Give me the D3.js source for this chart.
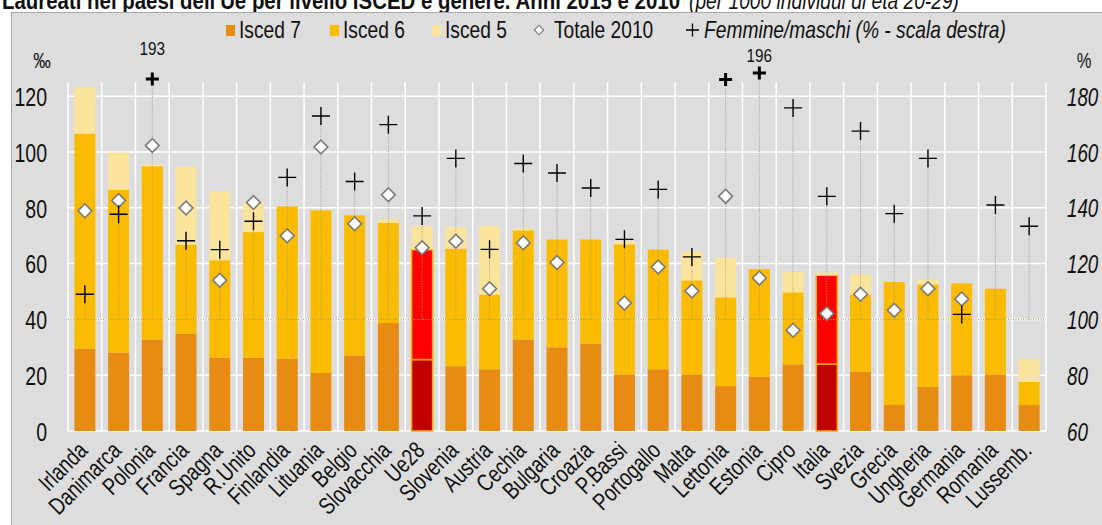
<!DOCTYPE html>
<html>
<head>
<meta charset="utf-8">
<script src="https://cdn.jsdelivr.net/npm/d3@7"></script>
<style>
  body { margin: 0; background: #fff; }
  svg text { font-family: "Liberation Sans", Arial, sans-serif; fill: #111; }
</style>
</head>
<body>
<svg id="chart" width="1102" height="525"></svg>
<script>
// data (per 1000, Femmine/maschi in %)
var countries = ["Irlanda","Danimarca","Polonia","Francia","Spagna","R.Unito","Finlandia","Lituania","Belgio","Slovacchia","Ue28","Slovenia","Austria","Cechia","Bulgaria","Croazia","P.Bassi","Portogallo","Malta","Lettonia","Estonia","Cipro","Italia","Svezia","Grecia","Ungheria","Germania","Romania","Lussemb."];
var isced7 = [29.5,28.1,32.8,34.9,26.3,26.3,25.9,20.8,27.1,38.7,25.6,23.2,22.1,32.8,30.0,31.3,20.3,22.1,20.3,16.1,19.4,23.9,24.0,21.2,9.3,15.8,20.0,20.3,9.3];
var isced6 = [77.1,58.4,62.1,31.9,34.9,45.0,54.6,58.3,50.2,35.9,39.4,42.2,26.8,39.1,38.6,37.3,46.6,42.9,33.7,31.8,38.6,25.8,31.8,27.7,44.1,36.7,32.9,30.7,8.3];
var isced5 = [16.6,13.3,0.7,28.0,24.7,10.4,0,0,0,1.3,8.5,7.7,24.6,0.8,0,0,1.2,0,10.4,14.2,0,7.3,1.0,7.3,0,1.8,0,0,8.1];
var totale2010 = [78.9,82.6,102.3,79.9,54.0,81.9,70.0,101.8,74.3,84.7,65.7,68.0,51.0,67.5,60.4,null,45.9,58.8,50.2,84.1,54.8,36.1,42.1,49.0,43.3,51.0,47.3,null,null];
var femMas = [109,137.7,193,128.2,125,135.2,150.9,172.9,149.4,169.8,137.1,157.7,125.1,155.9,152.5,147.1,128.7,146.6,122.4,186,196,175.8,144.1,167.5,137.9,157.7,101.8,141,133.4];
// off-scale values are drawn at the top edge of the chart
var offScaleShown = {"Polonia": 186.2, "Estonia": 188.3};
var offScaleLabels = ["Polonia", "Estonia"];
var highlighted = ["Ue28", "Italia"];
var leftTicks = [0,20,40,60,80,100,120];
var rightTicks = [60,80,100,120,140,160,180];

var colors = {i7: "#e88b12", i6: "#fbbb00", i5: "#fae39b", hi7: "#c00000", hi6: "#ff0000", hiStroke: "#f5aa00"};

// the original uses a condensed face: squeeze the glyphs horizontally
function narrow(sel, f) {
  sel.each(function() {
    var len = this.getComputedTextLength();
    d3.select(this).attr("textLength", len * f).attr("lengthAdjust", "spacingAndGlyphs");
  });
}

var svg = d3.select("#chart");

// title (partly cut by the top edge, as in the original)
svg.append("text").attr("x", 2).attr("y", 9).style("font-size", "23px").style("font-weight", "bold")
  .text("Laureati nei paesi dell'Ue per livello ISCED e genere. Anni 2015 e 2010")
  .attr("textLength", 678).attr("lengthAdjust", "spacingAndGlyphs");
svg.append("text").attr("x", 689).attr("y", 9).style("font-size", "23px").style("font-style", "italic")
  .text("(per 1000 individui di età 20-29)")
  .attr("textLength", 270).attr("lengthAdjust", "spacingAndGlyphs");

// gray panel
svg.append("rect").attr("x", 11.5).attr("y", 12.5).attr("width", 1100).attr("height", 520)
  .attr("fill", "#dddddd").attr("stroke", "#a9a9a9");

var x = d3.scaleBand().domain(countries).range([68, 1046]).padding(0);
var yL = d3.scaleLinear().domain([0, 125]).range([431, 82.25]);
var yR = d3.scaleLinear().domain([60, 185]).range([431, 82.25]);
var barW = 21;

// grid
var grid = svg.append("g");
grid.selectAll(".hg").data(leftTicks).enter().append("line")
  .attr("x1", 68).attr("x2", 1046)
  .attr("y1", function(d) { return yL(d); }).attr("y2", function(d) { return yL(d); })
  .attr("stroke", "#fff").attr("stroke-width", 1.5);
grid.selectAll(".vg").data(countries.concat(["__end"])).enter().append("line")
  .attr("x1", function(d, i) { return 68 + i * x.step(); })
  .attr("x2", function(d, i) { return 68 + i * x.step(); })
  .attr("y1", yL(125)).attr("y2", yL(0))
  .attr("stroke", "#fff").attr("stroke-width", 1.5);

// stacked bars
var rows = countries.map(function(c, i) {
  return {c: c, i7: isced7[i], i6: isced6[i], i5: isced5[i], t: totale2010[i], fm: femMas[i]};
});
var stack = d3.stack().keys(["i7", "i6", "i5"])(rows);
var bars = svg.append("g");
stack.forEach(function(layer) {
  bars.selectAll(".b-" + layer.key).data(layer).enter().append("rect")
    .attr("x", function(d) { return x(d.data.c) + (x.step() - barW) / 2; })
    .attr("width", barW)
    .attr("y", function(d) { return yL(d[1]); })
    .attr("height", function(d) { return yL(d[0]) - yL(d[1]); })
    .attr("fill", function(d) {
      var hi = highlighted.indexOf(d.data.c) >= 0;
      if (hi && layer.key === "i7") return colors.hi7;
      if (hi && layer.key === "i6") return colors.hi6;
      return colors[layer.key];
    })
    .attr("stroke", function(d) {
      return highlighted.indexOf(d.data.c) >= 0 && layer.key !== "i5" ? colors.hiStroke : "none";
    })
    .attr("stroke-width", 1.5);
});

// reference line at 100 (right scale)
svg.append("line").attr("x1", 68).attr("x2", 1046)
  .attr("y1", yR(100)).attr("y2", yR(100))
  .attr("stroke", "#a59c74").attr("stroke-width", 1).attr("stroke-dasharray", "1,1.5");

function fmShown(d) { return offScaleShown[d.c] || d.fm; }
function cx(d) { return x(d.c) + x.step() / 2; }

svg.append("g").selectAll("line").data(rows).enter().append("line")
  .attr("x1", cx).attr("x2", cx)
  .attr("y1", yR(100)).attr("y2", function(d) { return yR(fmShown(d)); })
  .attr("stroke", "#a59c74").attr("stroke-width", 1).attr("stroke-dasharray", "1,1.5");

// diamonds (Totale 2010)
svg.append("g").selectAll("path").data(rows.filter(function(d) { return d.t != null; })).enter()
  .append("path")
  .attr("d", d3.symbol().type(d3.symbolSquare).size(95))
  .attr("transform", function(d) { return "translate(" + cx(d) + "," + yL(d.t) + ") rotate(45)"; })
  .attr("fill", "#fff").attr("stroke", "#7a7a7a").attr("stroke-width", 1.6);

// crosses (Femmine/maschi)
svg.append("g").selectAll("path").data(rows).enter().append("path")
  .attr("d", function(d) {
    var s = d.fm > 185 ? 6.5 : 9;
    return "M" + (-s) + ",0H" + s + "M0," + (-s) + "V" + s;
  })
  .attr("transform", function(d) { return "translate(" + cx(d) + "," + yR(fmShown(d)) + ")"; })
  .attr("stroke", "#000").attr("fill", "none")
  .attr("stroke-width", function(d) { return d.fm > 185 ? 3 : 1.4; });

var labelDy = {"Polonia": -24, "Estonia": -11};
svg.append("g").selectAll("text").data(rows.filter(function(d) { return offScaleLabels.indexOf(d.c) >= 0; }))
  .enter().append("text")
  .attr("x", cx).attr("y", function(d) { return yR(fmShown(d)) + labelDy[d.c]; })
  .attr("text-anchor", "middle").style("font-size", "18px")
  .text(function(d) { return d3.format("d")(d.fm); })
  .call(narrow, 0.85);

// axes
var axL = d3.axisLeft(yL).tickValues(leftTicks).tickSize(0).tickPadding(0);
var gL = svg.append("g").attr("transform", "translate(47,0)").call(axL);
gL.select(".domain").remove();
gL.selectAll("text").style("font-size", "26px").attr("font-family", null).attr("fill", "#111").attr("dy", "0.36em")
  .call(narrow, 0.75);

var axR = d3.axisRight(yR).tickValues(rightTicks).tickSize(0).tickPadding(0);
var gR = svg.append("g").attr("transform", "translate(1067,0)").call(axR);
gR.select(".domain").remove();
gR.selectAll("text").style("font-size", "25px").style("font-style", "italic").attr("font-family", null).attr("fill", "#111").attr("dy", "0.36em")
  .call(narrow, 0.75);

svg.append("text").attr("x", 42).attr("y", 68).attr("text-anchor", "middle").style("font-size", "22px").text("‰").call(narrow, 0.8);
svg.append("text").attr("x", 1084).attr("y", 68).attr("text-anchor", "middle").style("font-size", "22px").text("%").call(narrow, 0.75);

// category labels
svg.append("g").selectAll("text").data(countries).enter().append("text")
  .attr("transform", function(d) { return "translate(" + (x(d) + x.step() / 2 + 4) + ",452) rotate(-45)"; })
  .attr("text-anchor", "end").style("font-size", "24px")
  .text(function(d) { return d; })
  .call(narrow, 0.78);

// legend
var legend = svg.append("g").attr("transform", "translate(0,38)");
var legItems = [
  {label: "Isced 7", x: 226, kind: "sq", color: colors.i7},
  {label: "Isced 6", x: 330, kind: "sq", color: colors.i6},
  {label: "Isced 5", x: 432, kind: "sq", color: colors.i5},
  {label: "Totale 2010", x: 533, kind: "dia"},
  {label: "Femmine/maschi (% - scala destra)", x: 686, kind: "cross"}
];
legItems.forEach(function(it) {
  var g = legend.append("g").attr("transform", "translate(" + it.x + ",0)");
  if (it.kind === "sq") {
    g.append("rect").attr("x", 0).attr("y", -13).attr("width", 9).attr("height", 11).attr("fill", it.color);
  } else if (it.kind === "dia") {
    g.append("path").attr("d", d3.symbol().type(d3.symbolSquare).size(45))
      .attr("transform", "translate(6,-8) rotate(45)")
      .attr("fill", "#fff").attr("stroke", "#7a7a7a").attr("stroke-width", 1.2);
  } else {
    g.append("path").attr("d", "M0,-8H13M6.5,-14.5V-1.5").attr("stroke", "#000").attr("stroke-width", 1.3);
  }
  g.append("text").attr("x", it.kind === "sq" ? 13 : (it.kind === "dia" ? 21 : 18)).attr("y", 0)
    .style("font-size", "24px").style("font-style", it.kind === "cross" ? "italic" : null)
    .text(it.label)
    .call(narrow, 0.8);
});
</script>
</body>
</html>
